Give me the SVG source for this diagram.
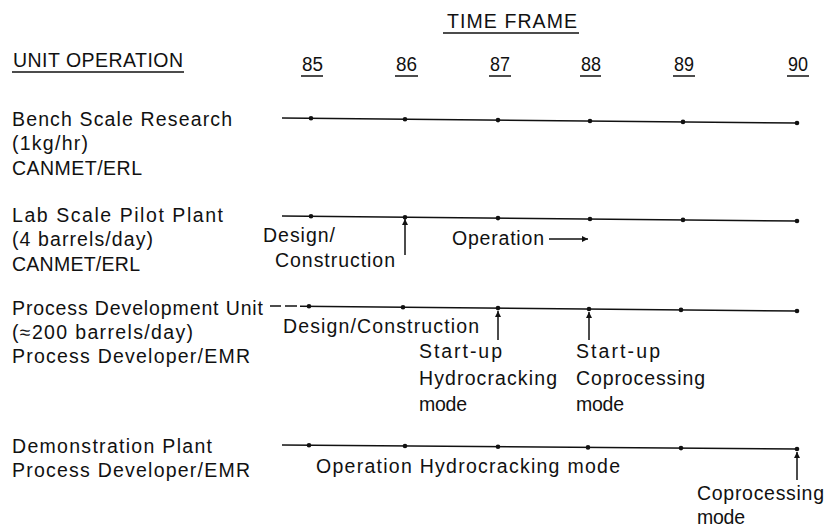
<svg xmlns="http://www.w3.org/2000/svg" width="826" height="530" viewBox="0 0 826 530">
<style>
text{font-family:"Liberation Sans",Arial,sans-serif;font-size:19.5px;fill:#111}
.ul{stroke:#111;stroke-width:1.5}
.tl{stroke:#111;stroke-width:1.5;fill:none}
.dot{fill:#111}
.arr{stroke:#111;stroke-width:1.5;fill:none;marker-end:url(#ah)}
</style>
<defs>
<marker id="ah" viewBox="0 0 10 10" refX="10" refY="5" markerWidth="8" markerHeight="6" markerUnits="userSpaceOnUse" orient="auto">
<path d="M0,0 L10,5 L0,10 Z" fill="#111"/>
</marker>
</defs>
<rect width="826" height="530" fill="#fff"/>
<g id="header">
<text x="447" y="28" textLength="130" lengthAdjust="spacing">TIME FRAME</text>
<line class="ul" x1="443" y1="33" x2="579" y2="33"/>
<text x="13" y="67" textLength="170" lengthAdjust="spacing">UNIT OPERATION</text>
<line class="ul" x1="12" y1="72" x2="184" y2="72"/>
<text x="302" y="71" textLength="21" lengthAdjust="spacingAndGlyphs">85</text>
<line class="ul" x1="301" y1="76" x2="323" y2="76"/>
<text x="396" y="71" textLength="21" lengthAdjust="spacingAndGlyphs">86</text>
<line class="ul" x1="395" y1="76" x2="418" y2="76"/>
<text x="490" y="71" textLength="20" lengthAdjust="spacingAndGlyphs">87</text>
<line class="ul" x1="489" y1="76" x2="511" y2="76"/>
<text x="581" y="71" textLength="20" lengthAdjust="spacingAndGlyphs">88</text>
<line class="ul" x1="580" y1="76" x2="601" y2="76"/>
<text x="674" y="71" textLength="20" lengthAdjust="spacingAndGlyphs">89</text>
<line class="ul" x1="673" y1="76" x2="695" y2="76"/>
<text x="788" y="71" textLength="20" lengthAdjust="spacingAndGlyphs">90</text>
<line class="ul" x1="787" y1="76" x2="809" y2="76"/>
</g>
<g id="bench">
<text x="12" y="126" textLength="220" lengthAdjust="spacing">Bench Scale Research</text>
<text x="12" y="150" textLength="76" lengthAdjust="spacing">(1kg/hr)</text>
<text x="12" y="175" textLength="130" lengthAdjust="spacing">CANMET/ERL</text>
<line class="tl" x1="282" y1="118" x2="797" y2="123"/>
<circle class="dot" cx="311" cy="118.3" r="2.3"/>
<circle class="dot" cx="405" cy="119.2" r="2.3"/>
<circle class="dot" cx="498" cy="120.1" r="2.3"/>
<circle class="dot" cx="590" cy="121" r="2.3"/>
<circle class="dot" cx="683" cy="121.9" r="2.3"/>
<circle class="dot" cx="797" cy="123" r="2.3"/>
</g>
<g id="lab">
<text x="12" y="222" textLength="211" lengthAdjust="spacing">Lab Scale Pilot Plant</text>
<text x="12" y="246" textLength="141" lengthAdjust="spacing">(4 barrels/day)</text>
<text x="12" y="271" textLength="128" lengthAdjust="spacing">CANMET/ERL</text>
<line class="tl" x1="282" y1="216" x2="797" y2="221"/>
<circle class="dot" cx="311" cy="216.3" r="2.3"/>
<circle class="dot" cx="405" cy="217.2" r="2.3"/>
<circle class="dot" cx="498" cy="218.1" r="2.3"/>
<circle class="dot" cx="590" cy="219" r="2.3"/>
<circle class="dot" cx="683" cy="219.9" r="2.3"/>
<circle class="dot" cx="797" cy="221" r="2.3"/>
<text x="263" y="242" textLength="72" lengthAdjust="spacing">Design/</text>
<text x="275" y="267" textLength="120" lengthAdjust="spacing">Construction</text>
<text x="452" y="245" textLength="92" lengthAdjust="spacing">Operation</text>
</g>
<g id="pdu">
<text x="12" y="315" textLength="251" lengthAdjust="spacing">Process Development Unit</text>
<text x="12" y="339" textLength="181" lengthAdjust="spacing">(≈200 barrels/day)</text>
<text x="12" y="363" textLength="238" lengthAdjust="spacing">Process Developer/EMR</text>
<line class="tl" x1="270" y1="306" x2="281" y2="306"/>
<line class="tl" x1="285" y1="306" x2="297" y2="306"/>
<line class="tl" x1="300" y1="306.2" x2="797" y2="311"/>
<circle class="dot" cx="309" cy="306.3" r="2.3"/>
<circle class="dot" cx="403" cy="307.2" r="2.3"/>
<circle class="dot" cx="498" cy="308.1" r="2.3"/>
<circle class="dot" cx="589" cy="309" r="2.3"/>
<circle class="dot" cx="681" cy="309.9" r="2.3"/>
<circle class="dot" cx="797" cy="311" r="2.3"/>
<text x="283" y="333" textLength="196" lengthAdjust="spacing">Design/Construction</text>
<text x="419" y="358" textLength="83" lengthAdjust="spacing">Start-up</text>
<text x="419" y="385" textLength="138" lengthAdjust="spacing">Hydrocracking</text>
<text x="419" y="411" textLength="48" lengthAdjust="spacing">mode</text>
<text x="576" y="358" textLength="84" lengthAdjust="spacing">Start-up</text>
<text x="576" y="385" textLength="129" lengthAdjust="spacing">Coprocessing</text>
<text x="576" y="411" textLength="48" lengthAdjust="spacing">mode</text>
</g>
<g id="demo">
<text x="12" y="453" textLength="200" lengthAdjust="spacing">Demonstration Plant</text>
<text x="12" y="477" textLength="238" lengthAdjust="spacing">Process Developer/EMR</text>
<line class="tl" x1="282" y1="445" x2="797" y2="449"/>
<circle class="dot" cx="309" cy="445.2" r="2.3"/>
<circle class="dot" cx="405" cy="446" r="2.3"/>
<circle class="dot" cx="498" cy="446.7" r="2.3"/>
<circle class="dot" cx="588" cy="447.4" r="2.3"/>
<circle class="dot" cx="681" cy="448.1" r="2.3"/>
<circle class="dot" cx="797" cy="449" r="2.3"/>
<text x="316" y="473" textLength="304" lengthAdjust="spacing">Operation Hydrocracking mode</text>
<text x="697" y="500" textLength="127" lengthAdjust="spacing">Coprocessing</text>
<text x="697" y="524" textLength="48" lengthAdjust="spacing">mode</text>
</g>
<g id="connectors">
<line class="arr" x1="405" y1="255" x2="405" y2="219"/>
<line class="arr" x1="549" y1="239" x2="588" y2="239"/>
<line class="arr" x1="498" y1="340" x2="498" y2="311"/>
<line class="arr" x1="589" y1="340" x2="589" y2="312"/>
<line class="arr" x1="797" y1="480" x2="797" y2="452"/>
</g>
</svg>
